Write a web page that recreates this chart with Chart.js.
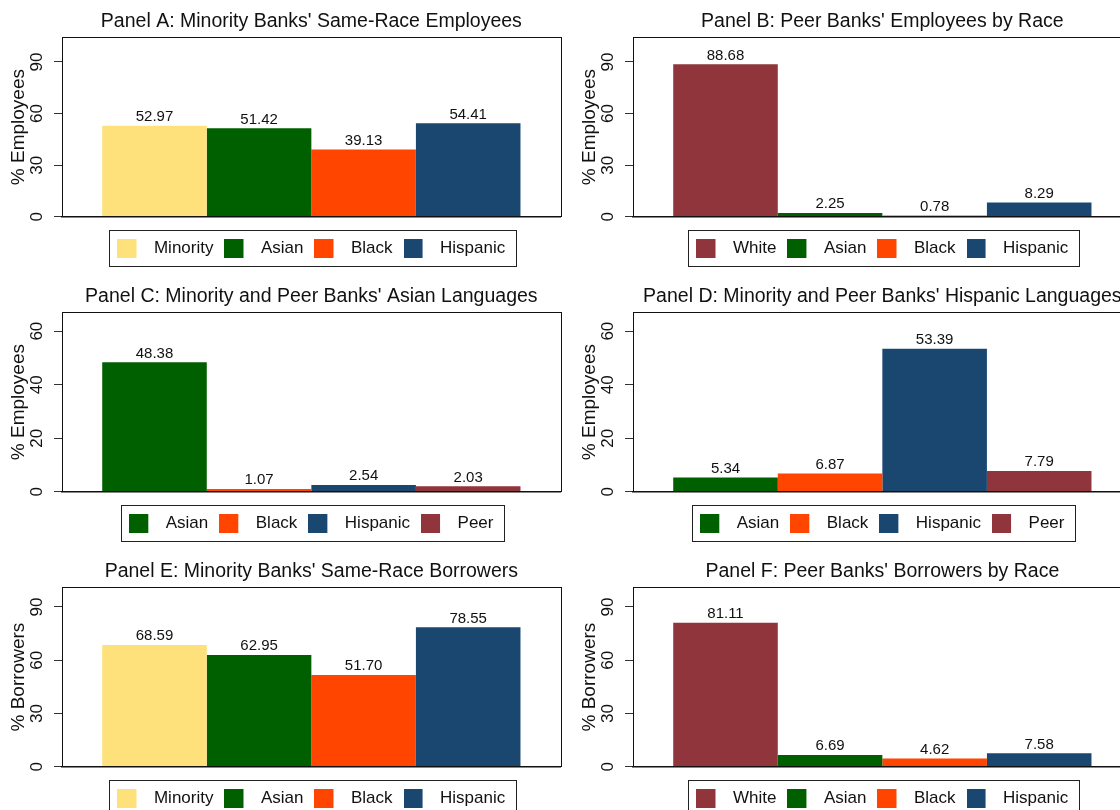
<!DOCTYPE html>
<html>
<head>
<meta charset="utf-8">
<script src="https://cdn.jsdelivr.net/npm/chart.js@4.4.1/dist/chart.umd.min.js"></script>
<style>
html, body { margin: 0; padding: 0; background: #fff; overflow: hidden; }
#wrap { position: relative; width: 1120px; height: 810px; overflow: hidden; background: #fff; }
canvas { position: absolute; }
</style>
</head>
<body>
<div id="wrap">
  <canvas id="pA" width="571" height="275" style="left:0px;top:0px"></canvas>
  <canvas id="pB" width="571" height="275" style="left:571px;top:0px"></canvas>
  <canvas id="pC" width="571" height="275" style="left:0px;top:275px"></canvas>
  <canvas id="pD" width="571" height="275" style="left:571px;top:275px"></canvas>
  <canvas id="pE" width="571" height="275" style="left:0px;top:550px"></canvas>
  <canvas id="pF" width="571" height="275" style="left:571px;top:550px"></canvas>
</div>
<script>
// ---- data ----
const titleA = "Panel A: Minority Banks' Same-Race Employees";
const titleB = "Panel B: Peer Banks' Employees by Race";
const titleC = "Panel C: Minority and Peer Banks' Asian Languages";
const titleD = "Panel D: Minority and Peer Banks' Hispanic Languages";
const titleE = "Panel E: Minority Banks' Same-Race Borrowers";
const titleF = "Panel F: Peer Banks' Borrowers by Race";

const categoriesA = ['Minority', 'Asian', 'Black', 'Hispanic'];
const valuesA = [52.97, 51.42, 39.13, 54.41];
const categoriesB = ['White', 'Asian', 'Black', 'Hispanic'];
const valuesB = [88.68, 2.25, 0.78, 8.29];
const categoriesC = ['Asian', 'Black', 'Hispanic', 'Peer'];
const valuesC = [48.38, 1.07, 2.54, 2.03];
const categoriesD = ['Asian', 'Black', 'Hispanic', 'Peer'];
const valuesD = [5.34, 6.87, 53.39, 7.79];
const categoriesE = ['Minority', 'Asian', 'Black', 'Hispanic'];
const valuesE = [68.59, 62.95, 51.70, 78.55];
const categoriesF = ['White', 'Asian', 'Black', 'Hispanic'];
const valuesF = [81.11, 6.69, 4.62, 7.58];

const yTitleEmployees = '% Employees';
const yTitleBorrowers = '% Borrowers';
const yTicksRace = [0, 30, 60, 90];
const yTicksLanguages = [0, 20, 40, 60];
const yMaxEmployees = 104.3;
const yMaxLanguages = 67;
const yMaxBorrowers = 101;

// ---- styles ----
const colorOf = {
  Minority: '#FEE17A',
  Asian: '#006000',
  Black: '#FF4500',
  Hispanic: '#1A476F',
  White: '#90353B',
  Peer: '#90353B'
};
const FONT = "'Liberation Sans', Arial, Helvetica, sans-serif";
const TEXT = '#111111';

function swatch(color) {
  const c = document.createElement('canvas');
  c.width = 28; c.height = 19;
  const g = c.getContext('2d');
  g.fillStyle = color;
  g.fillRect(0, 0, 19, 19);
  return c;
}

const valueLabels = {
  id: 'valueLabels',
  afterDatasetsDraw(chart) {
    const ctx = chart.ctx;
    ctx.save();
    ctx.font = '15px ' + FONT;
    ctx.fillStyle = TEXT;
    ctx.textAlign = 'center';
    ctx.textBaseline = 'alphabetic';
    chart.data.datasets.forEach((ds, i) => {
      chart.getDatasetMeta(i).data.forEach((bar, j) => {
        ctx.fillText(ds.data[j].toFixed(2), bar.x, bar.y - 4.5);
      });
    });
    ctx.restore();
  }
};

const frames = {
  id: 'frames',
  afterDraw(chart) {
    const ctx = chart.ctx;
    const a = chart.chartArea;
    ctx.save();
    ctx.strokeStyle = '#111';
    ctx.lineWidth = 1;
    ctx.strokeRect(Math.round(a.left) + 0.5, Math.round(a.top) + 0.5,
                   Math.round(a.right - a.left), Math.round(a.bottom - a.top));
    const hb = chart.legend && chart.legend.legendHitBoxes;
    if (hb && hb.length) {
      const first = hb[0], last = hb[hb.length - 1];
      const cy = first.top + 8.5;
      const l = first.left - 8, r = last.left + last.width + 11;
      ctx.strokeStyle = '#222';
      ctx.strokeRect(Math.round(l) + 0.5, Math.round(cy - 18) + 0.5, Math.round(r - l), 36);
    }
    ctx.restore();
  }
};

function makePanel(id, title, cats, vals, yTitle, yTicks, yMax) {
  new Chart(document.getElementById(id), {
    type: 'bar',
    data: {
      labels: [''],
      datasets: cats.map((c, i) => ({
        label: c,
        data: [vals[i]],
        backgroundColor: colorOf[c],
        borderWidth: 0,
        categoryPercentage: 0.8387,
        barPercentage: 1
      }))
    },
    options: {
      responsive: false,
      animation: false,
      devicePixelRatio: 1,
      layout: { padding: { left: 0, right: 10.3, top: 0, bottom: 8.2 } },
      plugins: {
        title: {
          display: true, text: title, fullSize: false, color: TEXT,
          font: { family: FONT, size: 19.5, weight: 'normal' },
          padding: { top: 10, bottom: 4 }
        },
        legend: {
          display: true, position: 'bottom', fullSize: false,
          labels: {
            usePointStyle: true, pointStyleWidth: 28, boxHeight: 17, padding: 11,
            color: TEXT, font: { family: FONT, size: 17 },
            generateLabels(chart) {
              return chart.data.datasets.map((ds, i) => ({
                text: ds.label,
                fillStyle: ds.backgroundColor,
                strokeStyle: ds.backgroundColor,
                lineWidth: 0,
                pointStyle: swatch(ds.backgroundColor),
                hidden: false,
                datasetIndex: i,
                fontColor: TEXT
              }));
            }
          }
        },
        tooltip: { enabled: false }
      },
      scales: {
        x: {
          type: 'category',
          grid: { display: false, drawTicks: true, tickLength: 12 },
          ticks: { display: false },
          border: { display: true, color: '#111', width: 1.5 }
        },
        y: {
          min: 0, max: yMax,
          afterBuildTicks: s => { s.ticks = yTicks.map(v => ({ value: v })); },
          afterFit: s => { s.width = 62; },
          grid: { display: true, drawOnChartArea: false, drawTicks: true, tickLength: 8, color: '#333' },
          border: { display: true, color: '#111' },
          ticks: {
            minRotation: 90, maxRotation: 90, crossAlign: 'center', padding: 7,
            color: TEXT, font: { family: FONT, size: 17 }
          },
          title: {
            display: true, text: yTitle, color: TEXT,
            font: { family: FONT, size: 19 },
            padding: { top: 7.3, bottom: 0 }
          }
        }
      }
    },
    plugins: [valueLabels, frames]
  });
}

makePanel('pA', titleA, categoriesA, valuesA, yTitleEmployees, yTicksRace, yMaxEmployees);
makePanel('pB', titleB, categoriesB, valuesB, yTitleEmployees, yTicksRace, yMaxEmployees);
makePanel('pC', titleC, categoriesC, valuesC, yTitleEmployees, yTicksLanguages, yMaxLanguages);
makePanel('pD', titleD, categoriesD, valuesD, yTitleEmployees, yTicksLanguages, yMaxLanguages);
makePanel('pE', titleE, categoriesE, valuesE, yTitleBorrowers, yTicksRace, yMaxBorrowers);
makePanel('pF', titleF, categoriesF, valuesF, yTitleBorrowers, yTicksRace, yMaxBorrowers);
</script>
</body>
</html>
